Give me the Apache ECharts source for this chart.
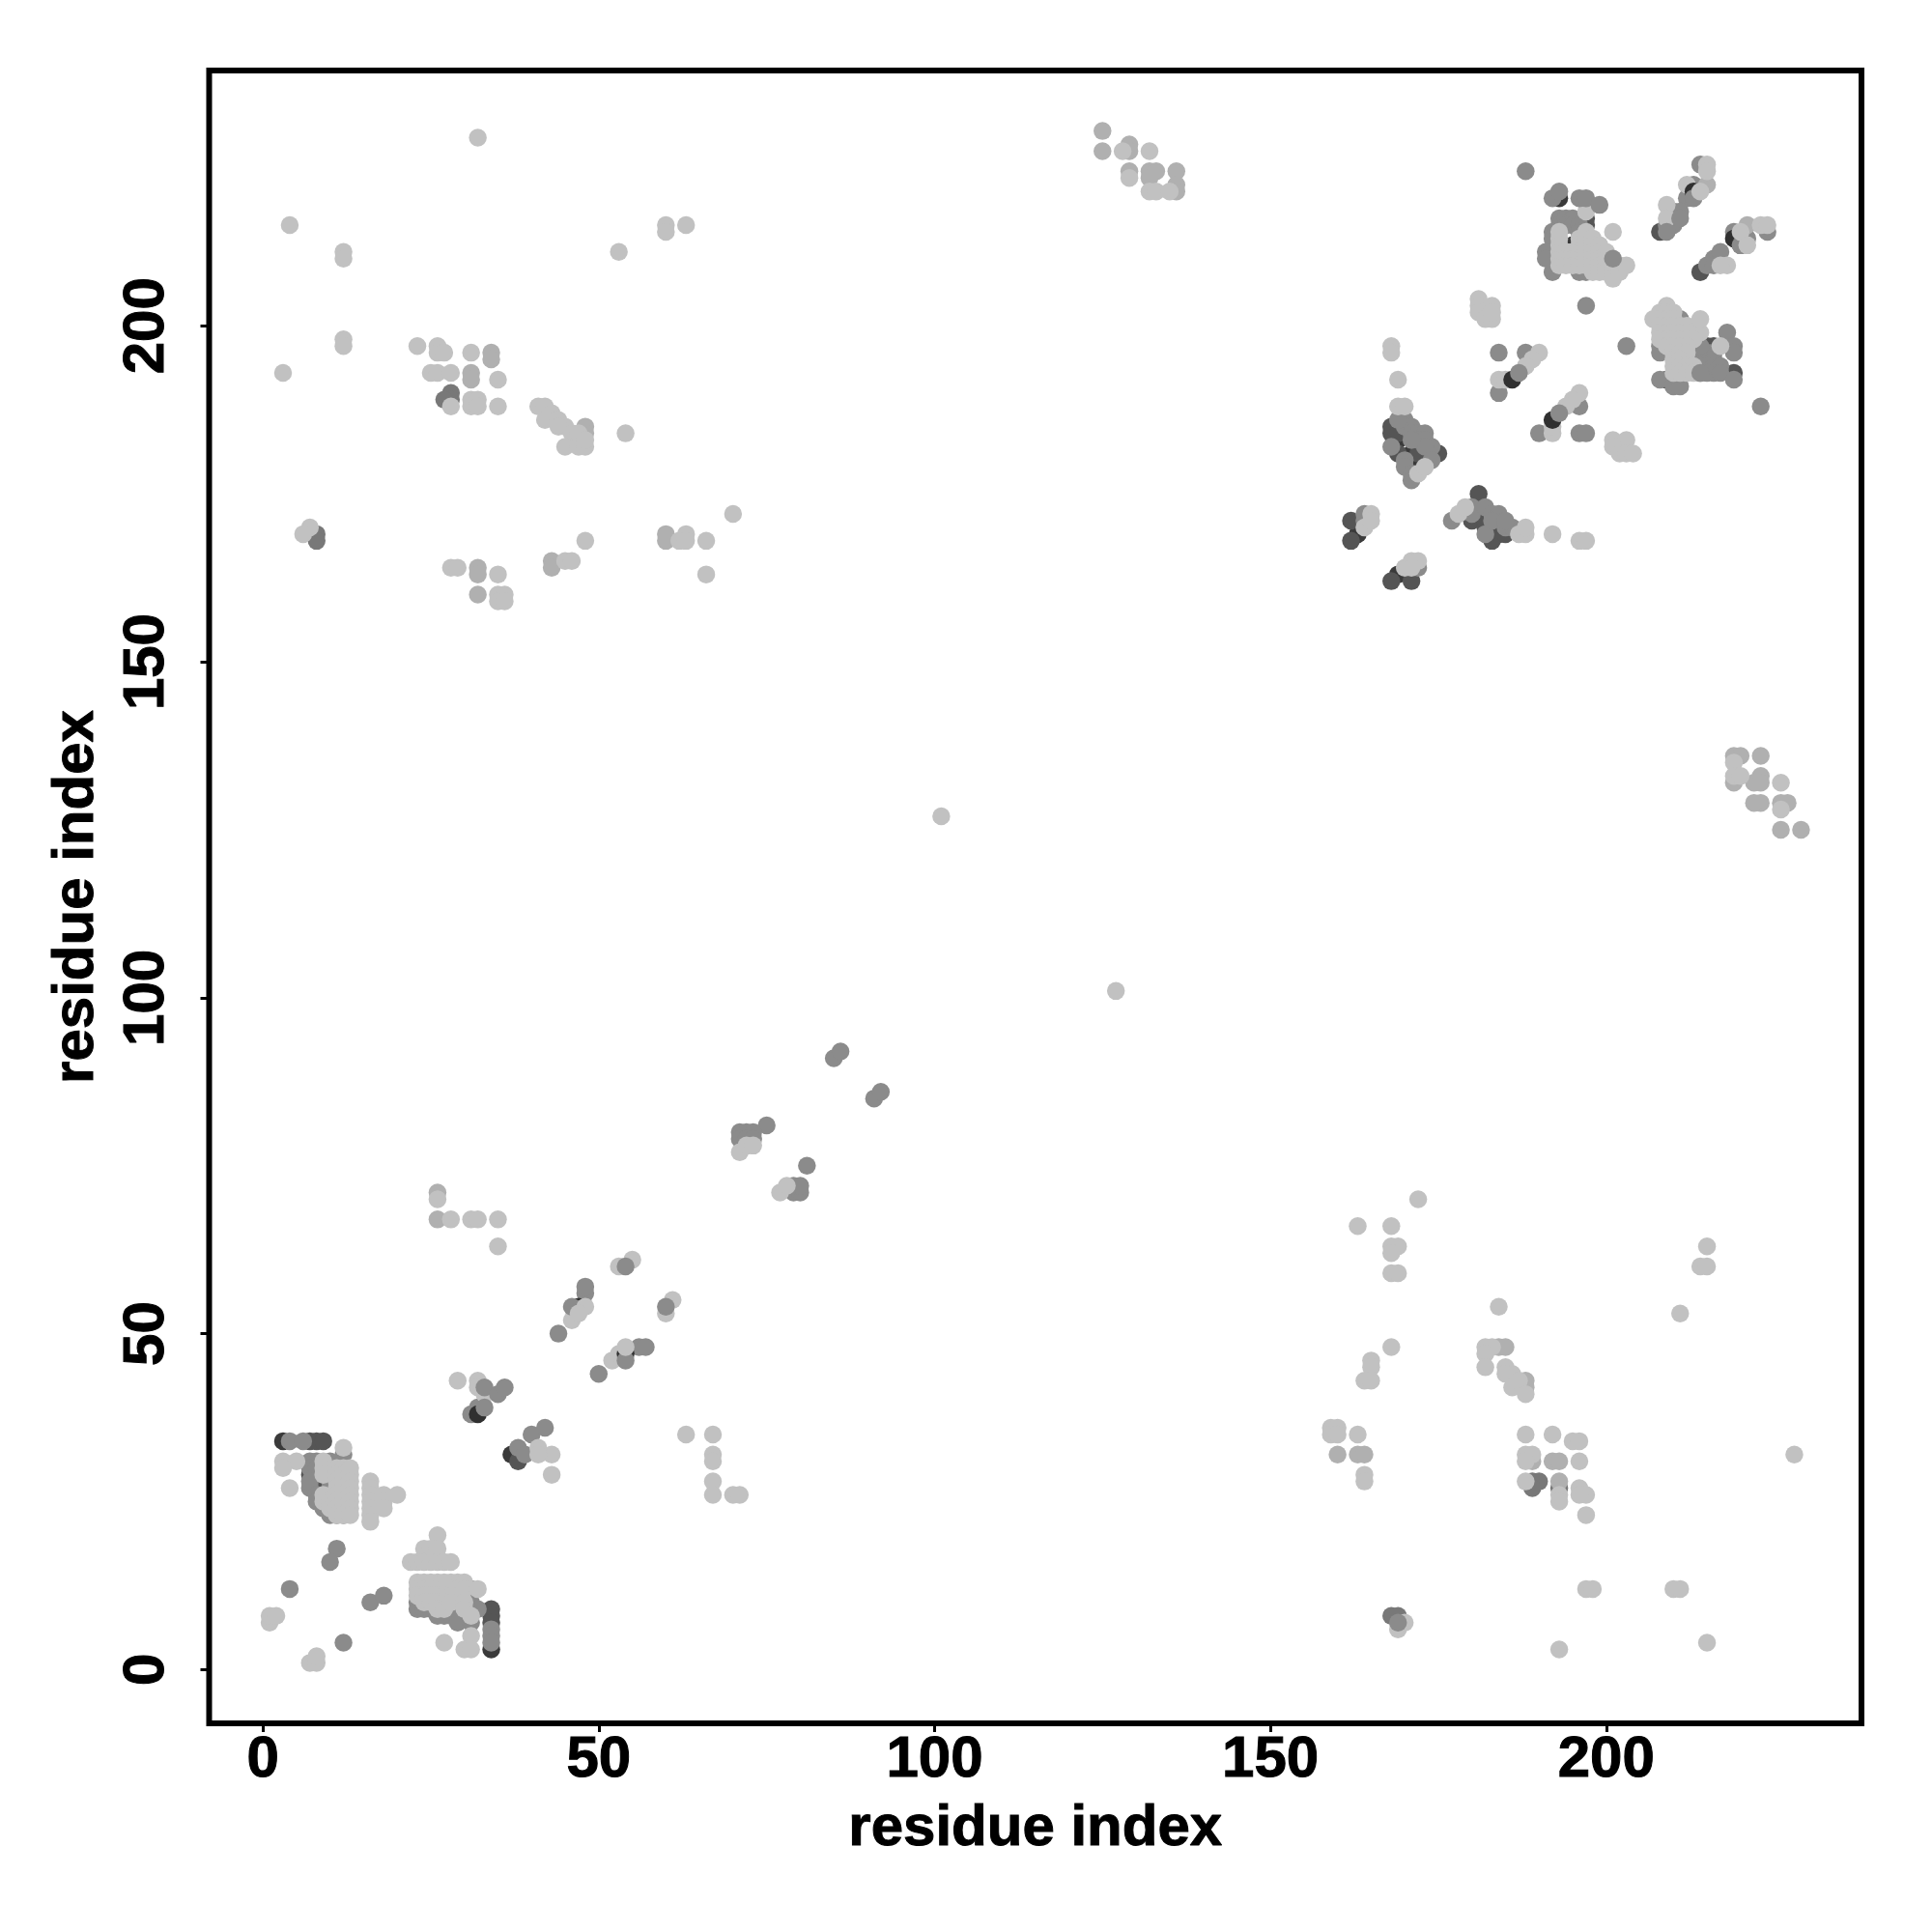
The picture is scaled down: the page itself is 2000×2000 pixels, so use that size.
<!DOCTYPE html>
<html><head><meta charset="utf-8">
<script src="https://cdn.jsdelivr.net/npm/echarts@6/dist/echarts.min.js"></script>
<style>html,body{margin:0;padding:0;background:#fff}#c{width:2000px;height:2000px}</style></head>
<body><div id="c"></div>
<script>
const tickValues=[0,50,100,150,200];
const axisTitle="residue index";
const darkest=[[3,34],[34,3],[37,32],[8,29],[28,9],[193,219],[192,210],[209,192],[163,169],[169,163],[172,180],[172,179],[169,183],[171,181],[212,195],[195,212]];
const dark=[[7,34],[8,34],[9,34],[34,9],[34,8],[34,7],[8,28],[7,29],[29,8],[30,8],[38,31],[197,216],[197,215],[208,214],[214,208],[215,197],[216,197],[219,193],
[168,184],[168,185],[169,184],[169,181],[172,181],[175,181],[174,181],[181,175],[181,172],[180,171],[182,170],[182,171],[184,169],[183,168],[185,169],
[162,171],[162,168],[168,162],[171,162]];
const gray=[[8,169],[8,168],[28,190],[28,189],[168,8],[169,8],[189,28],[190,28],[189,27],[193,27],[27,189]];
const mid=[[4,34],[6,34],[12,32],[7,31],[8,31],[7,30],[8,30],[10,31],[10,30],[10,29],[10,28],[10,27],[7,27],[7,28],[8,26],[8,25],[9,24],[10,23],[11,23],[12,23],[11,18],[10,16],[4,12],[16,10],[18,11],[12,4],
[23,10],[23,9],[24,9],[25,9],[26,8],[27,8],[28,8],[29,7],[31,12],[31,10],[31,9],[31,7],[32,9],[34,6],[34,5],[34,4],
[31,38],[32,39],[48,56],[48,57],[50,44],[44,50],[56,48],[57,48],[38,33],[40,35],[42,36],[39,32],
[85,91],[86,92],[91,85],[92,86],[75,81],[71,80],[72,80],[73,80],[71,79],[72,79],[73,79],[81,75],[79,71],[80,71],[79,72],[80,72],
[188,223],[192,219],[193,216],[193,215],[194,216],[195,216],[194,215],[195,215],[196,215],[196,214],[192,214],[192,213],[191,211],[191,210],[192,208],[196,208],[197,208],
[184,196],[188,196],[184,190],[190,184],[196,184],[196,188],
[214,224],[213,221],[212,219],[209,215],[210,217],[211,217],[210,216],[210,215],[224,214],[219,214],[221,213],[220,212],[215,209],[216,210],[217,211],[216,209],
[208,197],[208,196],[211,201],[213,196],[214,196],[215,196],[216,196],[213,195],[214,195],[215,195],[216,195],[214,194],[215,194],[216,194],[217,194],[214,193],[215,193],[216,193],[217,193],[214,197],[218,199],[219,197],[219,196],[203,197],[208,192],[210,191],[211,191],[219,192],[223,188],
[170,186],[170,185],[171,185],[169,186],[171,184],[172,184],[173,184],[172,183],[173,183],[174,182],[173,182],[171,183],[168,182],[170,180],[170,179],[171,178],[171,177],[174,180],
[177,171],[180,173],[180,172],[182,173],[183,172],[184,172],[182,169],[183,171],[185,170],[186,170],[185,171],
[164,171],[164,172],[172,164]];
const pale=[[26,67],[26,71],[31,193],[31,192],[34,196],[34,195],[43,165],[43,164],[48,185],[48,184],[32,164],[32,163],[32,160],[60,169],[60,168],[125,229],[125,226],[129,227],[129,226],[129,223],[132,223],[133,223],[132,222],[136,223],[136,221],[136,220],[219,136],[220,136],[219,132],[222,132],[223,133],[223,132],[223,136],[223,129],[226,129],[227,129],[226,125],[229,125],[222,129],[184,48],[185,48],[188,43],[188,42],[160,32],[163,32],[164,32],[192,31],[193,31],[193,28],[215,221],[221,215],[189,31]];
const light=[[12,33],[3,31],[5,31],[3,30],[4,27],[9,31],[9,30],[9,29],[9,26],[9,25],[10,25],[10,24],
[11,30],[11,29],[11,28],[11,27],[11,26],[11,25],[11,24],[11,23],[12,30],[12,29],[12,28],[12,27],[12,26],[12,25],[12,24],[12,23],[13,30],[13,29],[13,28],[13,27],[13,26],[13,25],[13,24],[13,23],
[16,28],[16,27],[16,26],[16,25],[16,24],[16,23],[16,22],[18,26],[18,25],[18,24],[20,26],
[26,20],[24,18],[25,18],[26,18],[22,16],[23,16],[24,16],[25,16],[26,16],[27,16],[28,16],
[23,13],[24,13],[25,13],[26,13],[27,13],[28,13],[29,13],[30,13],[23,12],[24,12],[25,12],[26,12],[27,12],[28,12],[29,12],[30,12],[32,12],[23,11],[24,11],[25,11],[26,11],[27,11],[28,11],[24,10],[25,10],[26,10],[27,10],[26,9],[27,9],[28,10],[30,10],[30,9],[31,8],
[31,5],[30,3],[31,3],[27,4],[1,7],[1,8],[2,8],[7,1],[8,1],[8,2],
[28,67],[31,67],[32,67],[35,67],[35,63],[63,35],[67,35],[67,32],[67,31],[67,28],[67,26],[70,26],[71,26],[26,70],
[29,43],[32,43],[32,42],[33,41],[46,52],[53,60],[55,61],[60,53],[61,55],[52,46],[53,47],[43,32],[43,29],[41,33],[41,32],
[71,77],[72,78],[73,78],[77,71],[78,72],
[32,228],[4,215],[12,211],[12,210],[53,211],[60,215],[60,214],[63,215],[12,198],[12,197],[3,193],[23,197],[26,197],[26,196],[27,196],[31,196],[25,193],[26,193],[28,193],[35,192],[28,188],[31,189],[31,188],[32,189],[32,188],[35,188],
[41,188],[42,188],[43,187],[42,186],[44,186],[45,185],[44,185],[46,184],[47,184],[45,182],[47,182],[48,182],[48,183],[54,184],[7,170],[6,169],[48,168],[63,169],[62,168],[63,168],[66,168],[66,163],[45,165],[46,165],[28,164],[29,164],[35,163],[35,160],[36,160],[35,159],[36,159],[70,172],
[101,127],[127,101],[128,226],[132,226],[129,222],[132,220],[133,220],[135,220],[219,135],[219,133],[226,132],[226,128],[220,133],
[193,214],[193,213],[193,212],[193,211],[193,210],[193,209],[194,211],[194,210],[194,209],[195,211],[195,210],[195,209],[196,213],[196,212],[196,211],[196,210],[196,209],[197,214],[197,213],[197,212],[197,211],[197,210],[197,209],[198,213],[198,212],[198,211],[198,210],[198,209],[198,208],[199,212],[199,211],[199,210],[199,209],[199,208],[200,211],[200,210],[200,209],[200,208],[201,209],[201,208],[201,207],[202,209],[202,208],[203,209],[197,217],[201,214],
[181,204],[181,203],[181,202],[182,201],[183,201],[183,203],[183,202],[168,197],[168,196],[169,192],[169,188],[170,188],[184,192],[185,192],[190,196],[189,195],[188,194],[196,190],[195,189],[194,188],[192,184],[192,185],
[215,224],[215,223],[212,221],[209,218],[209,216],[223,215],[224,215],[218,209],[217,209],
[209,203],[208,202],[209,202],[210,202],[207,201],[208,201],[209,201],[210,201],[208,200],[209,200],[210,200],[211,200],[212,200],[208,199],[209,199],[210,199],[211,199],[212,199],[213,199],[214,199],[208,198],[209,198],[210,198],[211,198],[212,198],[213,198],[209,197],[210,197],[211,197],[212,197],[210,196],[211,196],[212,196],[210,195],[211,195],[210,194],[211,194],[212,194],[213,194],[210,193],[211,193],[212,193],[213,193],[214,201],[217,197],
[172,178],[173,179],[164,170],[165,172],[165,171],[170,164],[171,165],[172,165],[171,164],[178,172],[179,173],[187,169],[188,169],[188,170],[192,169],[196,168],[197,168],
[201,183],[203,183],[201,182],[202,181],[203,181],[204,181],
[172,70],[163,66],[168,66],[168,63],[169,63],[168,62],[168,59],[169,59],[184,54],[168,48],[165,46],[165,45],[164,43],[165,43],[182,48],[183,48],[182,47],[182,45],[185,45],[186,44],[185,44],[186,42],[187,43],[188,41],[159,36],[160,36],[159,35],[160,35],[163,35],[164,29],[164,28],
[188,35],[192,35],[195,34],[196,34],[188,32],[189,32],[188,31],[196,31],[188,28],[193,26],[193,25],[196,27],[197,26],[196,26],[197,23],[197,12],[198,12],[169,6],[170,7],[193,3],[214,60],[215,60],[215,63],[211,53],[228,32],[210,12],[211,12],[215,4]];
const darkTop=[[186,192],[192,186],[213,220],[219,213],[47,54],[54,47],[32,38]];
const midTop=[[33,42],[35,41],[36,42],[33,39],[46,54],[54,46],[60,54],[54,60],[193,220],[196,219],[197,219],[199,218],[201,210],[197,203],[197,184],[209,214],[211,216],[169,7],[214,193],[187,193],[193,187],[213,219],[220,212]];
const lightTop=[[214,220],[220,214],[221,212],[48,54],[47,53],[54,48]];
const layers=[[darkest,"#3a3a3a"],[dark,"#555555"],[gray,"#787878"],[mid,"#8b8b8b"],[pale,"#b0b0b0"],[light,"#c1c1c1"],[darkTop,"#303030"],[midTop,"#8b8b8b"],[lightTop,"#c1c1c1"]];
const font={fontFamily:"Liberation Sans",fontWeight:"bold",fontSize:60,color:"#000",textBorderColor:"#000",textBorderWidth:1};
function axis(extra){return Object.assign({type:"value",min:-8,max:238,name:axisTitle,nameLocation:"middle",nameTextStyle:font,
 axisLine:{show:false,onZero:false},splitLine:{show:false},
 axisTick:{show:true,length:9,inside:false,lineStyle:{color:"#000",width:3},customValues:tickValues},
 axisLabel:Object.assign({show:true,customValues:tickValues},font,{margin:8})},extra);}
const chart=echarts.init(document.getElementById("c"),null,{renderer:"canvas"});
chart.setOption({animation:false,backgroundColor:"#fff",
 grid:{show:true,left:216.5,top:73,width:1710.5,height:1711,borderColor:"#000",borderWidth:6,backgroundColor:"#fff"},
 xAxis:axis({nameGap:79}),
 yAxis:axis({nameGap:107,axisLabel:Object.assign({customValues:tickValues,rotate:90,margin:64},font,{verticalAlign:"middle",align:"center"})}),
 series:layers.map(([d,c])=>({type:"scatter",data:d,symbol:"circle",symbolSize:18.5,itemStyle:{color:c,opacity:1},clip:false,silent:true}))});
</script></body></html>
